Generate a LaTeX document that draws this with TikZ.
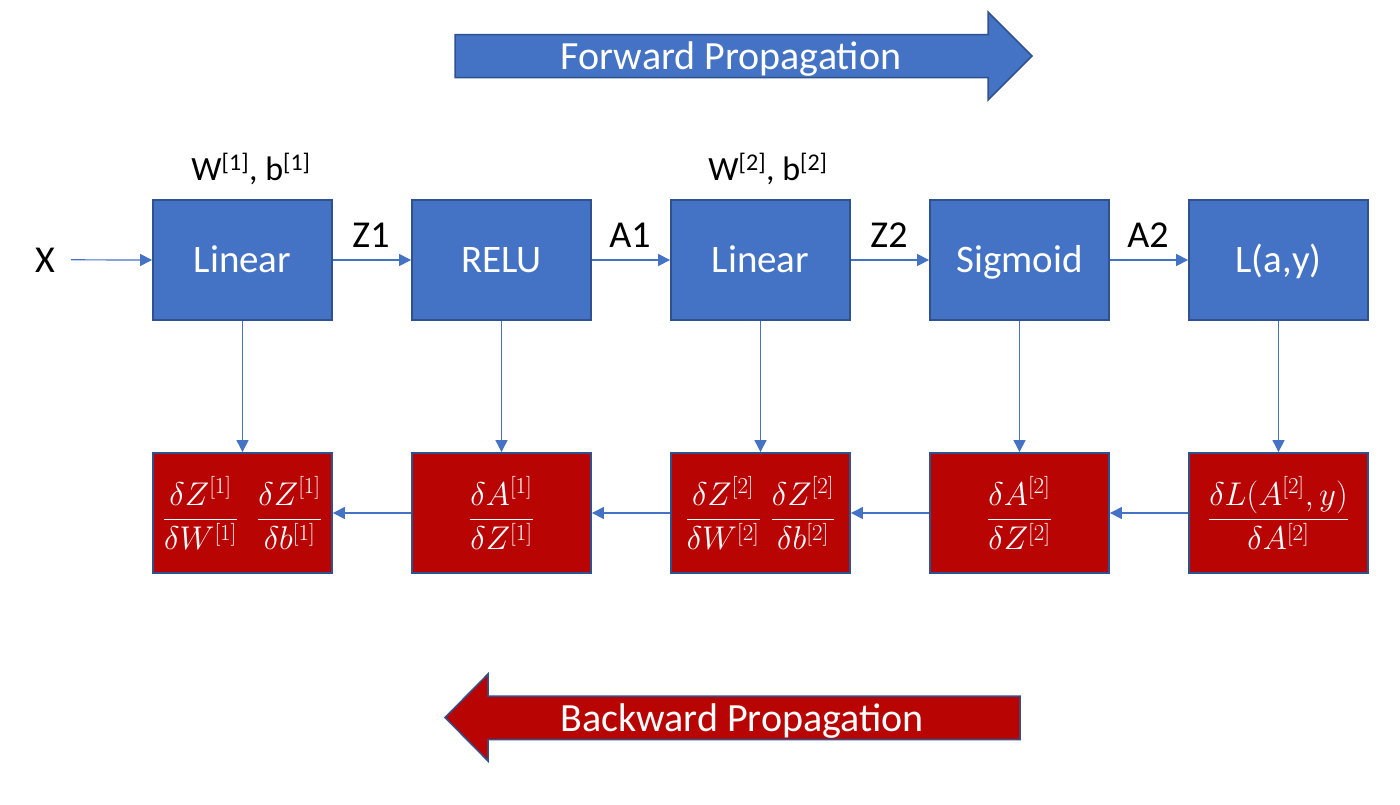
\documentclass[tikz,border=0pt]{standalone}
\usepackage{graphicx}
\usepackage{fontspec}
\setmainfont{Carlito}
\usetikzlibrary{arrows.meta}
\definecolor{fblue}{RGB}{68,114,196}
\definecolor{dblue}{RGB}{47,82,143}
\definecolor{bred}{RGB}{185,4,4}
\tikzset{
  fbox/.style={draw=dblue, line width=1.8pt, fill=fblue, minimum width=179pt, minimum height=120pt,
    inner sep=0pt, text=white, font=\fontsize{39}{45}\selectfont},
  boxtext/.style={text height=25pt, text depth=0pt},
  bbox/.style={draw=dblue, line width=1.8pt, fill=bred, minimum width=179pt, minimum height=120pt,
    inner sep=0pt, text=white, font=\fontsize{27}{32}\selectfont},
  lab/.style={text=black, font=\fontsize{38}{44}\selectfont, inner sep=0pt, anchor=base},
  wlab/.style={text=black, font=\fontsize{34}{40}\selectfont, inner sep=0pt, anchor=base},
  conn/.style={draw=fblue, line width=1.2pt, -{Triangle[length=12pt,width=12pt]}},
  bigarrow/.style={line width=1.5pt, draw=dblue},
  arrowtext/.style={text=white, font=\fontsize{40}{46}\selectfont, inner sep=0pt, anchor=base},
}
\newcommand{\sq}[1]{\textsuperscript{\fontsize{24}{28}\selectfont[#1]}}
\newcommand{\mybigmath}[1]{\scalebox{1.32}{$\displaystyle #1$}}
\begin{document}
\begin{tikzpicture}[x=1pt,y=-1pt]
\useasboundingbox (0,0) rectangle (1400,804);

% big arrows
\fill[fblue, bigarrow] (455,34.5) -- (988,34.5) -- (988,12) -- (1032,56) -- (988,100) -- (988,77.5) -- (455,77.5) -- cycle;
\node[arrowtext] (fwd) at (731,69) {Forward Propagation};
\fill[bred, bigarrow] (1020,696) -- (488,696) -- (488,674) -- (445,717.5) -- (488,761) -- (488,739.5) -- (1020,739.5) -- cycle;
\node[arrowtext] (bwd) at (742,731) {Backward Propagation};

% forward boxes
\node[fbox, boxtext] (f1) at (242.5,260) {Linear};
\node[fbox, boxtext] (f2) at (501.5,260) {RELU};
\node[fbox, boxtext] (f3) at (760.5,260) {Linear};
\node[fbox, boxtext] (f4) at (1019.5,260) {Sigmoid};
\node[fbox, boxtext] (f5) at (1278.5,260) {L(a,y)};

% backward boxes
\node[bbox] (r1) at (242.5,513) {\mybigmath{\frac{\delta Z^{[1]}}{\delta W^{[1]}}\;\;\frac{\delta Z^{[1]}}{\delta b^{[1]}}}};
\node[bbox] (r2) at (501.5,513) {\mybigmath{\frac{\delta A^{[1]}}{\delta Z^{[1]}}}};
\node[bbox] (r3) at (760.5,513) {\mybigmath{\frac{\delta Z^{[2]}}{\delta W^{[2]}}\;\frac{\delta Z^{[2]}}{\delta b^{[2]}}}};
\node[bbox] (r4) at (1019.5,513) {\mybigmath{\frac{\delta A^{[2]}}{\delta Z^{[2]}}}};
\node[bbox] (r5) at (1278.5,513) {\mybigmath{\frac{\delta L(A^{[2]},y)}{\delta A^{[2]}}}};

% labels
\node[lab] (x) at (45,272) {X};
\node[lab] (z1) at (371,247) {Z1};
\node[lab] (a1) at (630,247) {A1};
\node[lab] (z2) at (889,247) {Z2};
\node[lab] (a2) at (1148,247) {A2};
\node[wlab] (w1) at (251,180) {W\sq{1}, b\sq{1}};
\node[wlab] (w2) at (768,180) {W\sq{2}, b\sq{2}};

% forward connectors
\draw[conn] ([xshift=16pt]x.east) -- (f1.west);
\draw[conn] (f1.east) -- (f2.west);
\draw[conn] (f2.east) -- (f3.west);
\draw[conn] (f3.east) -- (f4.west);
\draw[conn] (f4.east) -- (f5.west);

% vertical connectors
\foreach \i in {1,...,5}{
  \draw[conn, line width=0.9pt] (f\i.south) -- (r\i.north);
}

% backward connectors
\draw[conn] (r5.west) -- (r4.east);
\draw[conn] (r4.west) -- (r3.east);
\draw[conn] (r3.west) -- (r2.east);
\draw[conn] (r2.west) -- (r1.east);
\end{tikzpicture}
\end{document}
